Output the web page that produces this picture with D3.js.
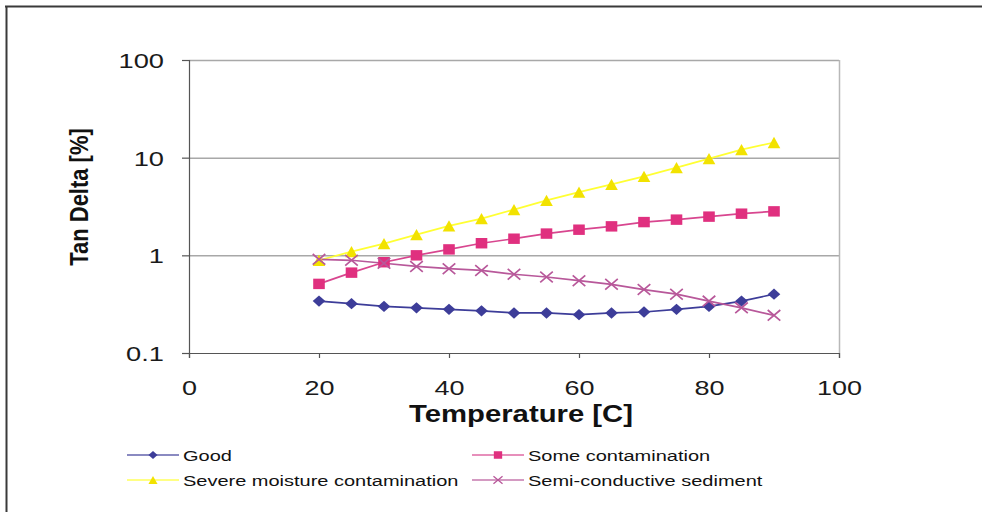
<!DOCTYPE html>
<html>
<head>
<meta charset="utf-8">
<script src="https://cdn.jsdelivr.net/npm/d3@7/dist/d3.min.js"></script>
<style>
  body { margin: 0; background: #fff; }
  svg { display: block; font-family: "Liberation Sans", Arial, sans-serif; }
</style>
</head>
<body>
<svg id="chart" width="982" height="512"></svg>
<script>
// data
var temps = [20, 25, 30, 35, 40, 45, 50, 55, 60, 65, 70, 75, 80, 85, 90];
var good = [0.34, 0.32, 0.30, 0.29, 0.28, 0.27, 0.257, 0.257, 0.247, 0.257, 0.263, 0.28, 0.30, 0.34, 0.40];
var someCont = [0.51, 0.665, 0.85, 1.0, 1.15, 1.33, 1.48, 1.67, 1.83, 1.98, 2.19, 2.32, 2.49, 2.67, 2.82];
var severe = [0.89, 1.09, 1.32, 1.63, 2.0, 2.38, 2.94, 3.65, 4.44, 5.33, 6.44, 7.9, 9.77, 12.1, 14.3];
var semiCond = [0.91, 0.89, 0.83, 0.77, 0.73, 0.70, 0.64, 0.60, 0.55, 0.505, 0.446, 0.40, 0.34, 0.29, 0.243];
var seriesNames = ["Good", "Some contamination", "Severe moisture contamination", "Semi-conductive sediment"];
var xTicks = [0, 20, 40, 60, 80, 100];
var yTicks = [0.1, 1, 10, 100];

var svg = d3.select("#chart");
var stretchX = 1.3; // the scanned figure is a bit wider than tall

// custom marker shapes (wider than tall, like the scan)
var diamond = { draw: function(c, s) { var w = s, h = s * 0.9; c.moveTo(0, -h); c.lineTo(w, 0); c.lineTo(0, h); c.lineTo(-w, 0); c.closePath(); } };
var square = { draw: function(c, s) { var w = s, h = s * 0.9; c.rect(-w, -h, 2 * w, 2 * h); } };
var triangle = { draw: function(c, s) { var w = s, h = s * 0.9; c.moveTo(0, -h); c.lineTo(w, h); c.lineTo(-w, h); c.closePath(); } };
var cross = { draw: function(c, s) { var w = s, h = s * 0.85; c.moveTo(-w, -h); c.lineTo(w, h); c.moveTo(w, -h); c.lineTo(-w, h); } };

var series = [
  { name: seriesNames[0], values: good, line: "#3d3d99", fill: "#3d3d99", shape: diamond, size: 6.3, stroke: false },
  { name: seriesNames[1], values: someCont, line: "#d8468f", fill: "#e0307f", shape: square, size: 5.8, stroke: false },
  { name: seriesNames[2], values: severe, line: "#ffff33", fill: "#f2e200", shape: triangle, size: 6.3, stroke: false },
  { name: seriesNames[3], values: semiCond, line: "#b8589a", fill: "#b8589a", shape: cross, size: 6.3, stroke: true }
];

// frame
svg.append("line").attr("x1", 5).attr("x2", 982).attr("y1", 6.5).attr("y2", 6.5)
  .attr("stroke", "#3a3a3a").attr("stroke-width", 2);
svg.append("line").attr("x1", 6.5).attr("x2", 6.5).attr("y1", 6).attr("y2", 512)
  .attr("stroke", "#3a3a3a").attr("stroke-width", 2);

var x = d3.scaleLinear().domain([0, 100]).range([189, 839]);
var y = d3.scaleLog().domain([0.1, 100]).range([353, 60]);

// gridlines
svg.append("g").selectAll("line").data(yTicks.slice(1)).enter().append("line")
  .attr("x1", x(0)).attr("x2", x(100))
  .attr("y1", function(d) { return y(d) + 0.5; }).attr("y2", function(d) { return y(d) + 0.5; })
  .attr("stroke", "#a8a8a8").attr("stroke-width", 1.5);

// right border of plot area
svg.append("line").attr("x1", x(100) + 0.5).attr("x2", x(100) + 0.5)
  .attr("y1", y(100)).attr("y2", y(0.1))
  .attr("stroke", "#b8b8b8").attr("stroke-width", 1.5);

// axes
var yAxis = svg.append("g").attr("transform", "translate(" + x(0) + ",0)")
  .call(d3.axisLeft(y).tickValues(yTicks).tickFormat(function(d) { return String(d); }).tickSize(7).tickPadding(0));
var xAxis = svg.append("g").attr("transform", "translate(0," + y(0.1) + ")")
  .call(d3.axisBottom(x).tickValues(xTicks).tickSize(5).tickPadding(0));

[yAxis, xAxis].forEach(function(ax) {
  ax.select(".domain").attr("stroke", "#555").attr("stroke-width", 1.2);
  ax.selectAll(".tick line").attr("stroke", "#555").attr("stroke-width", 1.2);
  ax.selectAll(".tick text").attr("fill", "#1a1a1a").style("font-size", "21px")
    .style("font-family", "'Liberation Sans', Arial, sans-serif");
});
yAxis.selectAll(".tick text").attr("x", -25 / stretchX).attr("dy", "0.35em")
  .attr("transform", "scale(" + stretchX + ",1)");
xAxis.selectAll(".tick text").style("font-size", "20px").attr("y", 35).attr("dy", "0.35em")
  .attr("transform", "scale(" + (stretchX + 0.05) + ",1)");

// axis titles
svg.append("g").attr("transform", "translate(521,422) scale(1.22,1)")
  .append("text").attr("text-anchor", "middle").style("font-size", "24px").style("font-weight", "bold")
  .attr("fill", "#111").text("Temperature [C]");
svg.append("g").attr("transform", "translate(88,197) scale(1.15,1) rotate(-90)")
  .append("text").attr("text-anchor", "middle").style("font-size", "22px").style("font-weight", "bold")
  .attr("fill", "#111").text("Tan Delta [%]");

// lines and markers
var line = d3.line().x(function(d, i) { return x(temps[i]); }).y(function(d) { return y(d); });

series.forEach(function(s) {
  svg.append("path").datum(s.values).attr("d", line)
    .attr("fill", "none").attr("stroke", s.line).attr("stroke-width", 1.7);
});
series.forEach(function(s) {
  svg.append("g").selectAll("path").data(s.values).enter().append("path")
    .attr("transform", function(d, i) { return "translate(" + x(temps[i]) + "," + y(d) + ")"; })
    .attr("d", d3.symbol().type(s.shape).size(s.size))
    .attr("fill", s.stroke ? "none" : s.fill)
    .attr("stroke", s.stroke ? s.fill : "none")
    .attr("stroke-width", s.stroke ? 1.7 : 0);
});

// legend
var legendPos = [
  { lx: 127, tx: 183, y: 455 },
  { lx: 472, tx: 528, y: 455 },
  { lx: 127, tx: 183, y: 480 },
  { lx: 472, tx: 528, y: 480 }
];
series.forEach(function(s, i) {
  var p = legendPos[i];
  var g = svg.append("g");
  g.append("line").attr("x1", p.lx).attr("x2", p.tx - 4).attr("y1", p.y).attr("y2", p.y)
    .attr("stroke", s.line).attr("stroke-width", 1.4).attr("opacity", 0.8);
  g.append("path").attr("transform", "translate(" + ((p.lx + p.tx - 4) / 2) + "," + p.y + ")")
    .attr("d", d3.symbol().type(s.shape).size(s.size * 0.72))
    .attr("fill", s.stroke ? "none" : s.fill)
    .attr("stroke", s.stroke ? s.fill : "none")
    .attr("stroke-width", s.stroke ? 1.3 : 0);
  g.append("g").attr("transform", "translate(" + p.tx + "," + (p.y + 5.5) + ") scale(1.29,1)")
    .append("text").style("font-size", "15.5px").attr("fill", "#111").text(s.name);
});
</script>
</body>
</html>
